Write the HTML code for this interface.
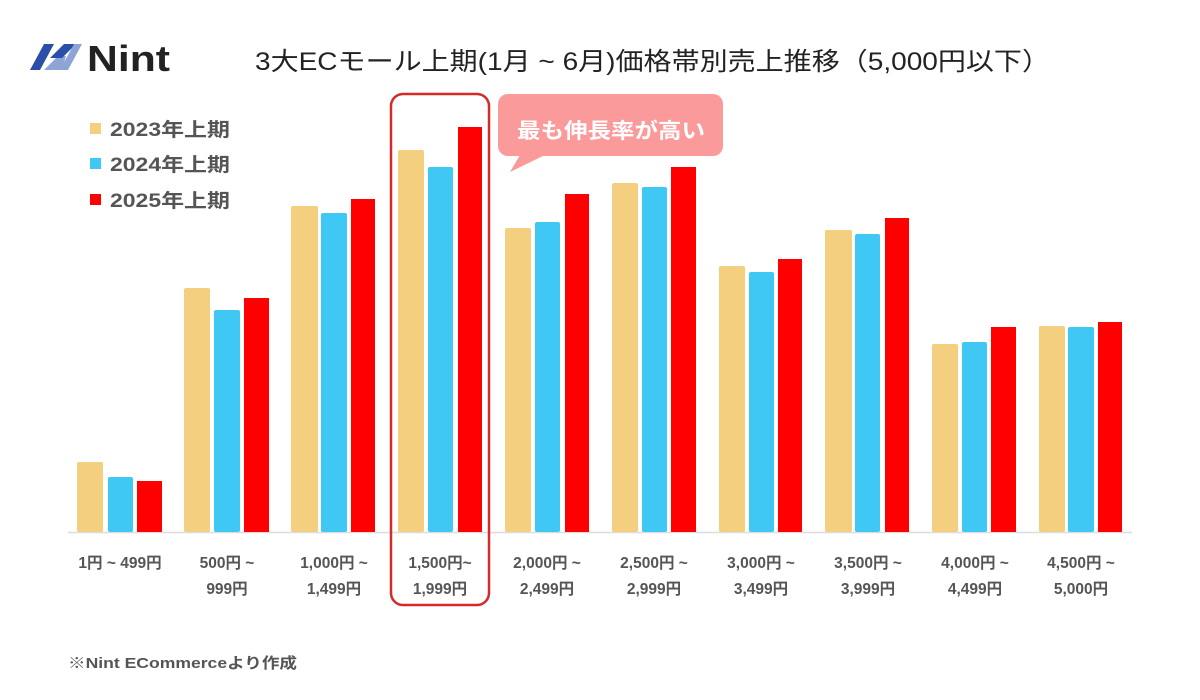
<!DOCTYPE html>
<html><head><meta charset="utf-8"><style>
html,body{margin:0;padding:0;background:#fff;}
svg{display:block;}
text{font-family:"Liberation Sans","Noto Sans CJK JP",sans-serif;}
</style></head><body>
<svg width="1200" height="700" viewBox="0 0 1200 700" xmlns="http://www.w3.org/2000/svg">
<rect width="1200" height="700" fill="#fff"/>
<!-- logo -->
<polygon points="30,70 44,44 54,44 40,70" fill="#2b4fa8"/>
<polygon points="44,70 58,56 66,56 62,70" fill="#8ea4d6"/>
<polygon points="50,58 64,44 76,44 62,58" fill="#2b4fa8"/>
<polygon points="60,70 74,44 82,44 68,70" fill="#8ea4d6"/>
<text x="87" y="71" font-size="36" font-weight="bold" fill="#222" textLength="83" lengthAdjust="spacingAndGlyphs">Nint</text>
<!-- title -->
<text x="255" y="70" font-size="25" fill="#222" textLength="795" lengthAdjust="spacingAndGlyphs">3大ECモール上期(1月 ~ 6月)価格帯別売上推移（5,000円以下）</text>
<!-- legend -->
<rect x="90" y="123" width="11" height="11" fill="#f5cf80"/>
<text x="110" y="136" font-size="19" font-weight="bold" fill="#555" textLength="120" lengthAdjust="spacingAndGlyphs">2023年上期</text>
<rect x="90" y="158" width="11" height="11" fill="#40c8f5"/>
<text x="110" y="171" font-size="19" font-weight="bold" fill="#555" textLength="120" lengthAdjust="spacingAndGlyphs">2024年上期</text>
<rect x="90" y="194" width="11" height="11" fill="#f00"/>
<text x="110" y="207" font-size="19" font-weight="bold" fill="#555" textLength="120" lengthAdjust="spacingAndGlyphs">2025年上期</text>
<!-- baseline -->
<line x1="68" y1="532.5" x2="1132" y2="532.5" stroke="#ddd" stroke-width="1.5"/>
<!-- bars -->
<g>
<rect x="77" y="462" width="26" height="70" fill="#f5cf80" rx="2"/>
<rect x="108" y="477" width="25" height="55" fill="#40c8f5" rx="2"/>
<rect x="137" y="481" width="25" height="51" fill="#f00"/>
<rect x="184" y="288" width="26" height="244" fill="#f5cf80" rx="2"/>
<rect x="214" y="310" width="26" height="222" fill="#40c8f5" rx="2"/>
<rect x="244" y="298" width="25" height="234" fill="#f00"/>
<rect x="291" y="206" width="27" height="326" fill="#f5cf80" rx="2"/>
<rect x="321" y="213" width="26" height="319" fill="#40c8f5" rx="2"/>
<rect x="351" y="199" width="24" height="333" fill="#f00"/>
<rect x="398" y="150" width="26" height="382" fill="#f5cf80" rx="2"/>
<rect x="428" y="167" width="25" height="365" fill="#40c8f5" rx="2"/>
<rect x="458" y="127" width="24" height="405" fill="#f00"/>
<rect x="505" y="228" width="26" height="304" fill="#f5cf80" rx="2"/>
<rect x="535" y="222" width="25" height="310" fill="#40c8f5" rx="2"/>
<rect x="565" y="194" width="24" height="338" fill="#f00"/>
<rect x="612" y="183" width="26" height="349" fill="#f5cf80" rx="2"/>
<rect x="642" y="187" width="25" height="345" fill="#40c8f5" rx="2"/>
<rect x="671" y="167" width="25" height="365" fill="#f00"/>
<rect x="719" y="266" width="26" height="266" fill="#f5cf80" rx="2"/>
<rect x="749" y="272" width="25" height="260" fill="#40c8f5" rx="2"/>
<rect x="778" y="259" width="24" height="273" fill="#f00"/>
<rect x="825" y="230" width="27" height="302" fill="#f5cf80" rx="2"/>
<rect x="855" y="234" width="25" height="298" fill="#40c8f5" rx="2"/>
<rect x="885" y="218" width="24" height="314" fill="#f00"/>
<rect x="932" y="344" width="26" height="188" fill="#f5cf80" rx="2"/>
<rect x="962" y="342" width="25" height="190" fill="#40c8f5" rx="2"/>
<rect x="991" y="327" width="25" height="205" fill="#f00"/>
<rect x="1039" y="326" width="26" height="206" fill="#f5cf80" rx="2"/>
<rect x="1068" y="327" width="26" height="205" fill="#40c8f5" rx="2"/>
<rect x="1098" y="322" width="24" height="210" fill="#f00"/>
</g>
<!-- x labels -->
<g font-size="15.5" font-weight="bold" fill="#555" text-anchor="middle">
<text x="120" y="568">1円 ~ 499円</text>
<text x="227" y="568">500円 ~</text><text x="227" y="594">999円</text>
<text x="334" y="568">1,000円 ~</text><text x="334" y="594">1,499円</text>
<text x="440" y="568">1,500円~</text><text x="440" y="594">1,999円</text>
<text x="547" y="568">2,000円 ~</text><text x="547" y="594">2,499円</text>
<text x="654" y="568">2,500円 ~</text><text x="654" y="594">2,999円</text>
<text x="761" y="568">3,000円 ~</text><text x="761" y="594">3,499円</text>
<text x="868" y="568">3,500円 ~</text><text x="868" y="594">3,999円</text>
<text x="975" y="568">4,000円 ~</text><text x="975" y="594">4,499円</text>
<text x="1081" y="568">4,500円 ~</text><text x="1081" y="594">5,000円</text>
</g>
<!-- highlight box -->
<rect x="391" y="94" width="98" height="511" rx="12" fill="none" stroke="#d42a2a" stroke-width="2.5"/>
<!-- callout -->
<rect x="498" y="94" width="225" height="62" rx="10" fill="#fa9a9a"/>
<polygon points="520,155 545,155 510,172" fill="#fa9a9a"/>
<text x="517" y="138" font-size="21" font-weight="bold" fill="#fff" textLength="188" lengthAdjust="spacingAndGlyphs">最も伸長率が高い</text>
<!-- footnote -->
<text x="68" y="668" font-size="15" font-weight="bold" fill="#555" textLength="229" lengthAdjust="spacingAndGlyphs">※Nint ECommerceより作成</text>
</svg>
</body></html>
